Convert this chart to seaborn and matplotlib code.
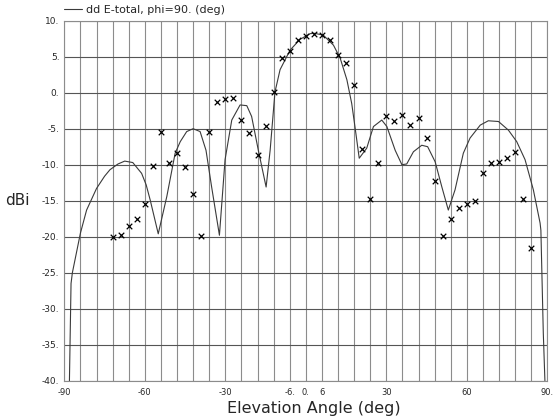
import matplotlib
matplotlib.use("Agg")
import matplotlib.pyplot as plt
import seaborn as sns
import numpy as np
import pandas as pd

# ---- data ----
curve_angle = [-88.1, -87.5, -87.0, -84.0, -81.7, -78.0, -75.0, -73.0, -70.0, -67.5,
               -64.5, -61.2, -59.5, -58.0, -55.0, -51.8, -48.7, -46.8, -44.4, -42.0,
               -39.4, -37.2, -35.1, -32.2, -30.1, -27.6, -24.5, -22.0, -20.2, -17.7,
               -14.8, -13.3, -11.5, -9.6, -5.9, -2.2, 1.6, 3.2, 6.5, 10.3,
               12.8, 15.3, 17.1, 18.3, 19.9, 22.7, 25.2, 28.3, 30.2, 33.3,
               35.8, 37.6, 40.1, 43.2, 45.4, 48.2, 50.7, 53.1, 55.6, 58.7,
               61.2, 65.0, 68.0, 71.8, 75.5, 78.6, 81.7, 84.8, 87.3, 87.6,
               88.5, 89.1]
curve_dbi = [-40.0, -26.5, -25.0, -19.5, -16.3, -13.3, -11.6, -10.7, -9.9, -9.5,
             -9.7, -11.2, -12.8, -14.9, -19.6, -14.4, -8.4, -6.8, -5.4, -5.0,
             -5.4, -8.0, -13.1, -19.8, -9.3, -3.8, -1.7, -1.8, -3.3, -8.0,
             -13.1, -8.0, 0.1, 3.2, 5.9, 7.4, 8.2, 8.25, 8.0, 6.6,
             4.8, 1.8, -1.5, -4.7, -9.1, -7.7, -4.7, -3.8, -4.7, -8.0,
             -10.0, -9.9, -8.2, -7.3, -7.5, -9.6, -13.1, -16.3, -13.5, -8.4,
             -6.3, -4.5, -3.9, -4.0, -5.2, -6.8, -9.3, -13.5, -18.1, -19.1,
             -33.4, -40.0]

meas_angle = [-72, -69, -66, -63, -60, -57, -54, -51, -48, -45, -42, -39, -36, -33,
              -30, -27, -24, -21, -18, -15, -12, -9, -6, -3, 0, 3, 6, 9, 12, 15,
              18, 21, 24, 27, 30, 33, 36, 39, 42, 45, 48, 51, 54, 57, 60, 63, 66,
              69, 72, 75, 78, 81, 84]
meas_dbi = [-20.0, -19.8, -18.5, -17.6, -15.4, -10.2, -5.5, -9.7, -8.4, -10.3,
            -14.1, -19.9, -5.5, -1.3, -0.9, -0.8, -3.8, -5.6, -8.7, -4.6,
            0.1, 4.8, 5.8, 7.3, 7.9, 8.1, 8.0, 7.3, 5.2, 4.1,
            1.0, -7.8, -14.7, -9.7, -3.3, -4.0, -3.1, -4.5, -3.5, -6.3,
            -12.3, -19.9, -17.6, -16.0, -15.5, -15.0, -11.1, -9.8, -9.6, -9.0,
            -8.3, -14.8, -21.6]

x_tick_values = [-90, -60, -30, -6, 0, 6, 30, 60, 90]
x_tick_labels = ['-90', '-60', '-30', '-6.', '0.', '6', '30', '60', '90.']
y_tick_values = [10, 5, 0, -5, -10, -15, -20, -25, -30, -35, -40]
y_tick_labels = ['10.', '5.', '0.', '-5.', '-10.', '-15.', '-20.', '-25.', '-30.', '-35.', '-40.']
series_label = 'dd E-total, phi=90. (deg)'

curve_df = pd.DataFrame({'angle': curve_angle, 'dbi': curve_dbi})
meas_df = pd.DataFrame({'angle': meas_angle, 'dbi': meas_dbi})

sns.set_style("white")
plt.rcParams['font.family'] = ['DejaVu Sans']

fig = plt.figure(figsize=(5.56, 4.19), dpi=100)
ax = fig.add_axes([0.1157, 0.0914, 0.8687, 0.8592])

# grid
for v in np.arange(-90, 91, 6):
    ax.axvline(v, color='#8c8c8c', lw=0.8, zorder=0)
for v in y_tick_values:
    ax.axhline(v, color='#555555', lw=0.8, zorder=0)

sns.lineplot(data=curve_df, x='angle', y='dbi', ax=ax, color='#3a3a3a', lw=0.8,
             label=series_label, sort=False, estimator=None)
sns.scatterplot(data=meas_df, x='angle', y='dbi', ax=ax, marker='x', color='black',
                s=16, linewidth=0.9, legend=False, zorder=3)

ax.set_xlim(-90, 90)
ax.set_ylim(-40, 10)
ax.set_xticks(x_tick_values)
ax.set_xticklabels(x_tick_labels, fontsize=6)
ax.set_yticks(y_tick_values)
ax.set_yticklabels(y_tick_labels, fontsize=6.5)
ax.tick_params(axis='x', length=0, pad=5)
ax.tick_params(axis='y', length=0, pad=3.5)

for s in ax.spines.values():
    s.set_color('#8c8c8c')
    s.set_linewidth(0.8)

ax.set_xlabel('Elevation Angle (deg)', fontsize=11.5)
ax.xaxis.set_label_coords(0.517, -0.076)
ax.xaxis.label.set_va('center')
ax.set_ylabel('dBi', rotation=0, fontsize=11, ha='right', va='center')
ax.yaxis.set_label_coords(-0.072, 0.5)

ax.legend(loc='center left', bbox_to_anchor=(0.0, 1.03), frameon=False,
          fontsize=8, handlelength=1.6, handletextpad=0.35, borderpad=0.0,
          borderaxespad=0.0)

fig.savefig('out.png', dpi=100)
